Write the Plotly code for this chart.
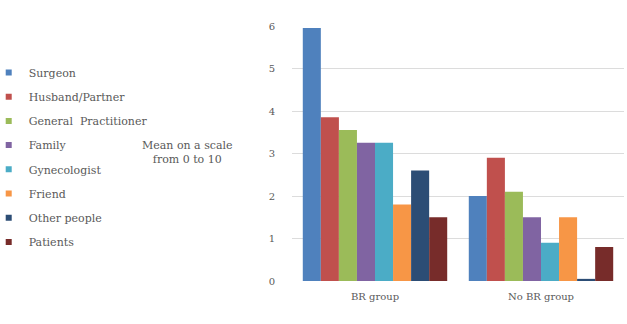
import plotly.graph_objects as go

categories = ["BR group", "No BR group"]
series_names = ["Surgeon", "Husband/Partner", "General  Practitioner", "Family",
                "Gynecologist", "Friend", "Other people", "Patients"]
br_values = [5.95, 3.85, 3.55, 3.25, 3.25, 1.8, 2.6, 1.5]
no_br_values = [2.0, 2.9, 2.1, 1.5, 0.9, 1.5, 0.05, 0.8]
colors = ["#4F81BD", "#C0504D", "#9BBB59", "#8064A2",
          "#4BACC6", "#F79646", "#2C4D75", "#772C2A"]
y_ticks = [0, 1, 2, 3, 4, 5, 6]

W, H = 627, 324
FONT = "DejaVu Serif"

fig = go.Figure()
for i, name in enumerate(series_names):
    fig.add_trace(go.Bar(
        x=categories, y=[br_values[i], no_br_values[i]], name=name,
        marker=dict(color=colors[i], line=dict(color=colors[i], width=0)),
        showlegend=False,
    ))
for i, name in enumerate(series_names):
    fig.add_trace(go.Scatter(
        x=[None], y=[None], mode="markers", name=name,
        legendgroup=f"g{i}",
        marker=dict(symbol="square", size=6, color=colors[i]),
        showlegend=True,
    ))

fig.update_layout(
    width=W, height=H,
    margin=dict(l=0, r=0, t=0, b=0, autoexpand=False),
    paper_bgcolor="white", plot_bgcolor="white",
    barmode="group", bargap=0.13, bargroupgap=0,
    font=dict(family=FONT, color="#595959", size=10),
    xaxis=dict(domain=[292 / W, 624 / W], range=[-0.5, 1.5],
               showgrid=False, showline=False, zeroline=False,
               tickfont=dict(family=FONT, size=10, color="#595959"), ticklabelstandoff=8),
    yaxis=dict(domain=[1 - 281 / H, 1 - 26 / H], range=[0, 6],
               tickvals=y_ticks, showgrid=True, gridcolor="#dcdcdc",
               gridwidth=1, zeroline=False, showline=False,
               tickfont=dict(family=FONT, size=10, color="#595959"), ticklabelstandoff=16),
    legend=dict(x=-0.018, xanchor="left", y=1 - 58 / H, yanchor="top",
                font=dict(family=FONT, size=11, color="#595959"),
                tracegroupgap=5.2, itemwidth=30, bgcolor="rgba(0,0,0,0)"),
    annotations=[dict(text="Mean on a scale<br>from 0 to 10", x=188 / W, y=1 - 152 / H,
                      xref="paper", yref="paper", xanchor="center", yanchor="middle",
                      showarrow=False,
                      font=dict(family=FONT, size=11, color="#595959"))],
)

fig.write_html("out.html")
